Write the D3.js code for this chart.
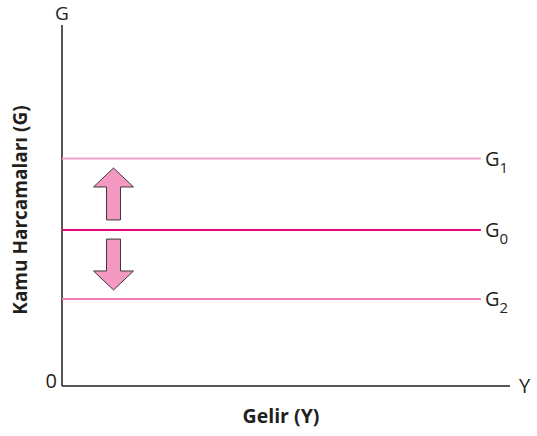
<!DOCTYPE html>
<html>
<head>
<meta charset="utf-8">
<script src="https://cdn.jsdelivr.net/npm/d3@7"></script>
<style>
  body { margin: 0; background: #fff; }
  text { font-family: "Open Sans", "Noto Sans", sans-serif; fill: #231f20; }
</style>
</head>
<body>
<div id="chart"></div>
<script>
// levels of government spending
var levelNames = ["G", "G", "G"];
var levelSubs = ["1", "0", "2"];
var levelValues = [6.3, 4.32, 2.41];
var levelColors = ["#f5a3c7", "#e5097f", "#f17db5"];

// shift arrows (x position, start, end)
var arrowX = [1.15, 1.15];
var arrowFrom = [4.6, 4.07];
var arrowTo = [6.04, 2.66];

var lineEnd = 9.35;

var width = 537, height = 436;
var svg = d3.select("#chart").append("svg")
  .attr("width", width).attr("height", height);

var x = d3.scaleLinear().domain([0, 10]).range([62, 510]);
var y = d3.scaleLinear().domain([0, 10]).range([386, 25]);

// axes
svg.append("line")
  .attr("x1", x(0)).attr("x2", x(0))
  .attr("y1", y(10)).attr("y2", y(0))
  .attr("stroke", "#231f20").attr("stroke-width", 1.5);
svg.append("line")
  .attr("x1", x(0)).attr("x2", x(10))
  .attr("y1", y(0)).attr("y2", y(0))
  .attr("stroke", "#231f20").attr("stroke-width", 1.5);

svg.append("text").attr("x", x(0)).attr("y", 20)
  .attr("text-anchor", "middle").style("font-size", "19px").text("G");
svg.append("text").attr("x", x(0) - 5).attr("y", y(0) + 2)
  .attr("text-anchor", "end").style("font-size", "20px").text("0");
svg.append("text").attr("x", x(10) + 9).attr("y", y(0) + 7)
  .attr("text-anchor", "start").style("font-size", "20px").text("Y");

// horizontal spending lines
levelValues.forEach(function (v, i) {
  svg.append("line")
    .attr("x1", x(0)).attr("x2", x(lineEnd))
    .attr("y1", y(v)).attr("y2", y(v))
    .attr("stroke", levelColors[i]).attr("stroke-width", 2);
  var t = svg.append("text")
    .attr("x", x(lineEnd) + 4).attr("y", y(v) + 7)
    .style("font-size", "20px");
  t.append("tspan").text(levelNames[i]);
  t.append("tspan").attr("dy", 7).style("font-size", "15px").text(levelSubs[i]);
});

// arrows
function arrowPath(cx, a, b) {
  var dir = b > a ? -1 : 1; // screen direction
  var y0 = y(a), y1 = y(b);
  var head = 19 * dir;
  var sw = 7, hw = 20;
  var yb = y1 - head;
  return "M" + (cx - sw) + "," + y0 +
    "L" + (cx - sw) + "," + yb +
    "L" + (cx - hw) + "," + yb +
    "L" + cx + "," + y1 +
    "L" + (cx + hw) + "," + yb +
    "L" + (cx + sw) + "," + yb +
    "L" + (cx + sw) + "," + y0 + "Z";
}
arrowX.forEach(function (ax, i) {
  svg.append("path")
    .attr("d", arrowPath(x(ax), arrowFrom[i], arrowTo[i]))
    .attr("fill", "#f49ac2")
    .attr("stroke", "#3a3a3a").attr("stroke-width", 1);
});

// axis titles
svg.append("text")
  .attr("x", 281).attr("y", 423)
  .attr("text-anchor", "middle")
  .style("font-size", "19.5px").style("font-weight", "bold")
  .text("Gelir (Y)");
svg.append("text")
  .attr("transform", "translate(27,210) rotate(-90)")
  .attr("text-anchor", "middle")
  .style("font-size", "19px").style("font-weight", "bold")
  .text("Kamu Harcamaları (G)");
</script>
</body>
</html>
